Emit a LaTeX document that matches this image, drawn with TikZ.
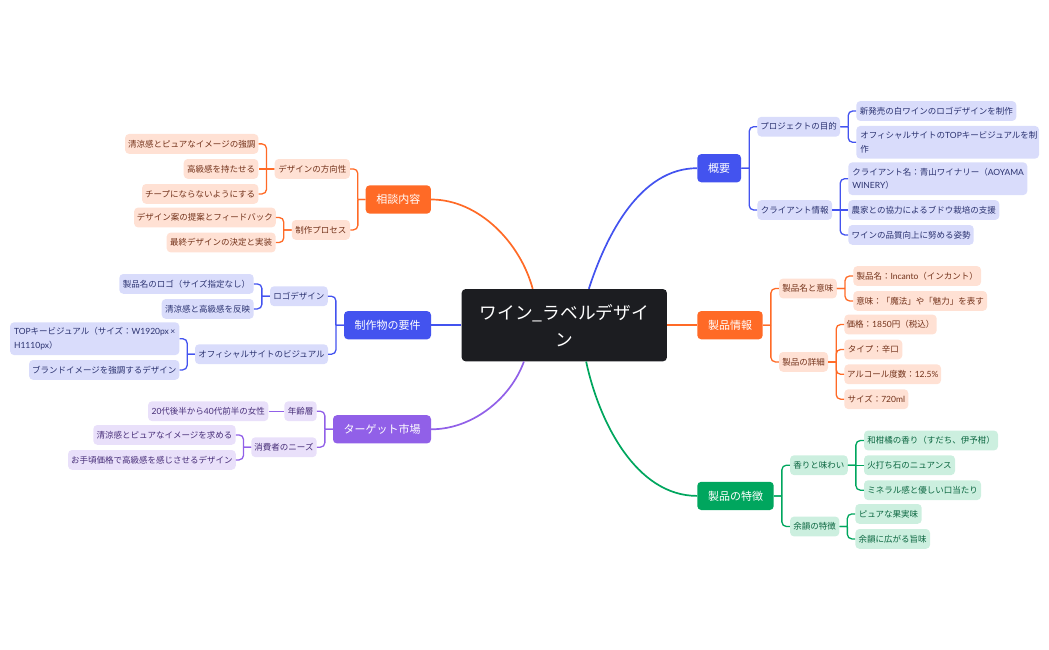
\documentclass[tikz,border=0pt]{standalone}
\usepackage{fontspec}
\setmainfont{Noto Sans CJK JP}
\newfontfamily\ltnfont{Lato}
\newcommand{\ltn}[1]{{\ltnfont #1}}
\usetikzlibrary{calc}
\definecolor{rootfill}{HTML}{1C1D21}
\definecolor{bluemain}{HTML}{4353EF}
\definecolor{bluesoft}{HTML}{D9DCFB}
\definecolor{bluetext}{HTML}{2B3270}
\definecolor{orangemain}{HTML}{FF6A26}
\definecolor{orangesoft}{HTML}{FFE1D4}
\definecolor{orangetext}{HTML}{73321A}
\definecolor{greenmain}{HTML}{00A65E}
\definecolor{greensoft}{HTML}{CCEFDF}
\definecolor{greentext}{HTML}{0B6640}
\definecolor{purplemain}{HTML}{9160E8}
\definecolor{purplesoft}{HTML}{E9E0FA}
\definecolor{purpletext}{HTML}{472E78}
\tikzset{
	rootnode/.style={fill=rootfill, text=white, rounded corners=4pt, minimum height=72.3, inner sep=2pt, align=center, font=\fontsize{17.7}{27}\selectfont},
	topic/.style={fill=#1main, text=white, rounded corners=4pt, minimum height=28.3, inner sep=2pt, font=\fontsize{11}{14}\selectfont},
	sub/.style={fill=#1soft, text=#1text, rounded corners=4pt, minimum height=19.8, inner xsep=2pt, inner ysep=1pt, font=\fontsize{8.5}{13.3}\selectfont},
	wrapped/.style={inner xsep=4pt, minimum height=32.7, align=left, text width=#1},
	curve/.style={draw=#1main, line width=1.7pt},
	stem/.style={draw=#1main, line width=1.3pt},
	branch/.style={draw=#1main, line width=1.3pt, rounded corners=4.5pt,
		to path={-- ($(\tikztostart)!0.5!(\tikztotarget |- \tikztostart)$) coordinate (brmid) (brmid) |- (\tikztotarget)}}
}
\begin{document}
\begin{tikzpicture}[x=1pt, y=-1pt]
		%%%%% FRAME %%%%%
		\useasboundingbox (0, 0) rectangle (1049, 650);
		
		\node[rootnode, minimum width=205.3] (root) at (564.3, 325.2) {ワイン\_ラベルデザイ\\ン};
		
		%%%%% RIGHT SIDE %%%%%
		\node[topic=blue, minimum width=43.7] (outline) at (719.2, 168.2) {概要};
		\node[sub=blue, minimum width=82.7] (purpose) at (798.7, 126.7) {プロジェクトの目的};
		\node[sub=blue, minimum width=160] (logowork) at (936.3, 111) {新発売の白ワインのロゴデザインを制作};
		\node[sub=blue, wrapped=174.7pt] (topwork) at (947.7, 142.3) {オフィシャルサイトの\ltn{TOP}キービジュアルを制\\作};
		\node[sub=blue, minimum width=74.7] (client) at (794.7, 210) {クライアント情報};
		\node[sub=blue, wrapped=171pt] (clientname) at (937.8, 178.7) {クライアント名：青山ワイナリー（\ltn{AOYAMA}\\\ltn{WINERY}）};
		\node[sub=blue, minimum width=151] (farmers) at (923.8, 210) {農家との協力によるブドウ栽培の支援};
		\node[sub=blue, minimum width=125.4] (quality) at (911, 234.9) {ワインの品質向上に努める姿勢};
		
		\node[topic=orange, minimum width=65.4] (product) at (730, 325.2) {製品情報};
		\node[sub=orange, minimum width=57.7] (naming) at (807.9, 288.5) {製品名と意味};
		\node[sub=orange, minimum width=127.7] (incanto) at (917.2, 276) {製品名：\ltn{Incanto}（インカント）};
		\node[sub=orange, minimum width=133.7] (meaning) at (920.2, 300.9) {意味：「魔法」や「魅力」を表す};
		\node[sub=orange, minimum width=49] (details) at (803.5, 361.9) {製品の詳細};
		\node[sub=orange, minimum width=92.4] (price) at (890.5, 324.5) {価格：\ltn{1850}円（税込）};
		\node[sub=orange, minimum width=58] (winetype) at (873.3, 349.5) {タイプ：辛口};
		\node[sub=orange, minimum width=96.7] (alcohol) at (892.7, 374.3) {アルコール度数：\ltn{12.5\%}};
		\node[sub=orange, minimum width=64] (bottle) at (876.3, 399.2) {サイズ：\ltn{720ml}};
		
		\node[topic=green, minimum width=76.4] (traits) at (735.5, 495.9) {製品の特徴};
		\node[sub=green, minimum width=57.7] (aroma) at (818.9, 465.2) {香りと味わい};
		\node[sub=green, minimum width=134] (citrus) at (931, 440.5) {和柑橘の香り（すだち、伊予柑）};
		\node[sub=green, minimum width=91] (flint) at (909.5, 465.2) {火打ち石のニュアンス};
		\node[sub=green, minimum width=117] (mineral) at (922.5, 490.2) {ミネラル感と優しい口当たり};
		\node[sub=green, minimum width=49.3] (finish) at (814.7, 526.5) {余韻の特徴};
		\node[sub=green, minimum width=66.4] (fruit) at (888.5, 513.9) {ピュアな果実味};
		\node[sub=green, minimum width=74.7] (umami) at (892.7, 538.9) {余韻に広がる旨味};
		
		%%%%% LEFT SIDE %%%%%
		\node[topic=orange, minimum width=65.3] (consult) at (398.3, 199.5) {相談内容};
		\node[sub=orange, minimum width=75.3] (direction) at (312.3, 168.9) {デザインの方向性};
		\node[sub=orange, minimum width=133.3] (pure) at (191.7, 143.9) {清涼感とピュアなイメージの強調};
		\node[sub=orange, minimum width=74.6] (luxury) at (221, 168.9) {高級感を持たせる};
		\node[sub=orange, minimum width=116.3] (cheap) at (200.2, 193.9) {チープにならないようにする};
		\node[sub=orange, minimum width=58.3] (process) at (320.9, 229.9) {制作プロセス};
		\node[sub=orange, minimum width=141.7] (proposal) at (204.9, 217.5) {デザイン案の提案とフィードバック};
		\node[sub=orange, minimum width=109] (decision) at (221.2, 242.5) {最終デザインの決定と実装};
		
		\node[topic=blue, minimum width=87] (deliver) at (387.5, 325.2) {制作物の要件};
		\node[sub=blue, minimum width=57.7] (logo) at (298.9, 296.2) {ロゴデザイン};
		\node[sub=blue, minimum width=134.4] (logoname) at (186.5, 283.9) {製品名のロゴ（サイズ指定なし）};
		\node[sub=blue, minimum width=92] (logofeel) at (207.7, 308.9) {清涼感と高級感を反映};
		\node[sub=blue, minimum width=133] (visual) at (261.5, 354.2) {オフィシャルサイトのビジュアル};
		\node[sub=blue, wrapped=161.3pt] (topvisual) at (94.7, 338.7) {\makebox[161.3pt][l]{\ltn{TOP}キービジュアル（サイズ：\ltn{W1920px\,×}}\\\ltn{H1110px}）};
		\node[sub=blue, minimum width=150.3] (brand) at (104.2, 369.9) {ブランドイメージを強調するデザイン};
		
		\node[topic=purple, minimum width=98] (market) at (382, 429.3) {ターゲット市場};
		\node[sub=purple, minimum width=32.4] (age) at (300.5, 411.2) {年齢層};
		\node[sub=purple, minimum width=120.3] (women) at (208.2, 411.2) {\ltn{20}代後半から\ltn{40}代前半の女性};
		\node[sub=purple, minimum width=65.4] (needs) at (284, 447.2) {消費者のニーズ};
		\node[sub=purple, minimum width=142.4] (seek) at (164.5, 434.9) {清涼感とピュアなイメージを求める};
		\node[sub=purple, minimum width=167.7] (afford) at (151.9, 459.9) {お手頃価格で高級感を感じさせるデザイン};
		
		%%%%% CURVES %%%%%
		\draw[curve=blue] (root.56) to[out=72, in=180, looseness=0.9] (outline.west);
		\draw[curve=orange] (root.east) -- (product.west);
		\draw[curve=green] (root.-59) to[out=-78, in=180, looseness=0.9] (traits.west);
		\draw[curve=orange] (root.131.7) to[out=105, in=0, looseness=0.9] (consult.east);
		\draw[curve=blue] (root.west) -- (deliver.east);
		\draw[curve=purple] (root.222) to[out=-110, in=0, looseness=0.9] (market.east);
		
		%%%%% BRANCHES %%%%%
		\draw[branch=blue] (outline.east) to (purpose.west);
		\draw[branch=blue] (outline.east) to (client.west);
		\draw[branch=blue] (purpose.east) to (logowork.west);
		\draw[branch=blue] (purpose.east) to (topwork.west);
		\draw[branch=blue] (client.east) to (clientname.west);
		\draw[stem=blue] (client.east) -- (farmers.west);
		\draw[branch=blue] (client.east) to (quality.west);
		
		\draw[branch=orange] (product.east) to (naming.west);
		\draw[branch=orange] (product.east) to (details.west);
		\draw[branch=orange] (naming.east) to (incanto.west);
		\draw[branch=orange] (naming.east) to (meaning.west);
		\draw[branch=orange] (details.east) to (price.west);
		\draw[branch=orange] (details.east) to (winetype.west);
		\draw[branch=orange] (details.east) to (alcohol.west);
		\draw[branch=orange] (details.east) to (bottle.west);
		
		\draw[branch=green] (traits.east) to (aroma.west);
		\draw[branch=green] (traits.east) to (finish.west);
		\draw[branch=green] (aroma.east) to (citrus.west);
		\draw[stem=green] (aroma.east) -- (flint.west);
		\draw[branch=green] (aroma.east) to (mineral.west);
		\draw[branch=green] (finish.east) to (fruit.west);
		\draw[branch=green] (finish.east) to (umami.west);
		
		\draw[branch=orange] (consult.west) to (direction.east);
		\draw[branch=orange] (consult.west) to (process.east);
		\draw[branch=orange] (direction.west) to (pure.east);
		\draw[stem=orange] (direction.west) -- (luxury.east);
		\draw[branch=orange] (direction.west) to (cheap.east);
		\draw[branch=orange] (process.west) to (proposal.east);
		\draw[branch=orange] (process.west) to (decision.east);
		
		\draw[branch=blue] (deliver.west) to (logo.east);
		\draw[branch=blue] (deliver.west) to (visual.east);
		\draw[branch=blue] (logo.west) to (logoname.east);
		\draw[branch=blue] (logo.west) to (logofeel.east);
		\draw[branch=blue] (visual.west) to (topvisual.east);
		\draw[branch=blue] (visual.west) to (brand.east);
		
		\draw[branch=purple] (market.west) to (age.east);
		\draw[branch=purple] (market.west) to (needs.east);
		\draw[stem=purple] (age.west) -- (women.east);
		\draw[branch=purple] (needs.west) to (seek.east);
		\draw[branch=purple] (needs.west) to (afford.east);
		
		%%%%% END %%%%%
	\end{tikzpicture}
\end{document}
